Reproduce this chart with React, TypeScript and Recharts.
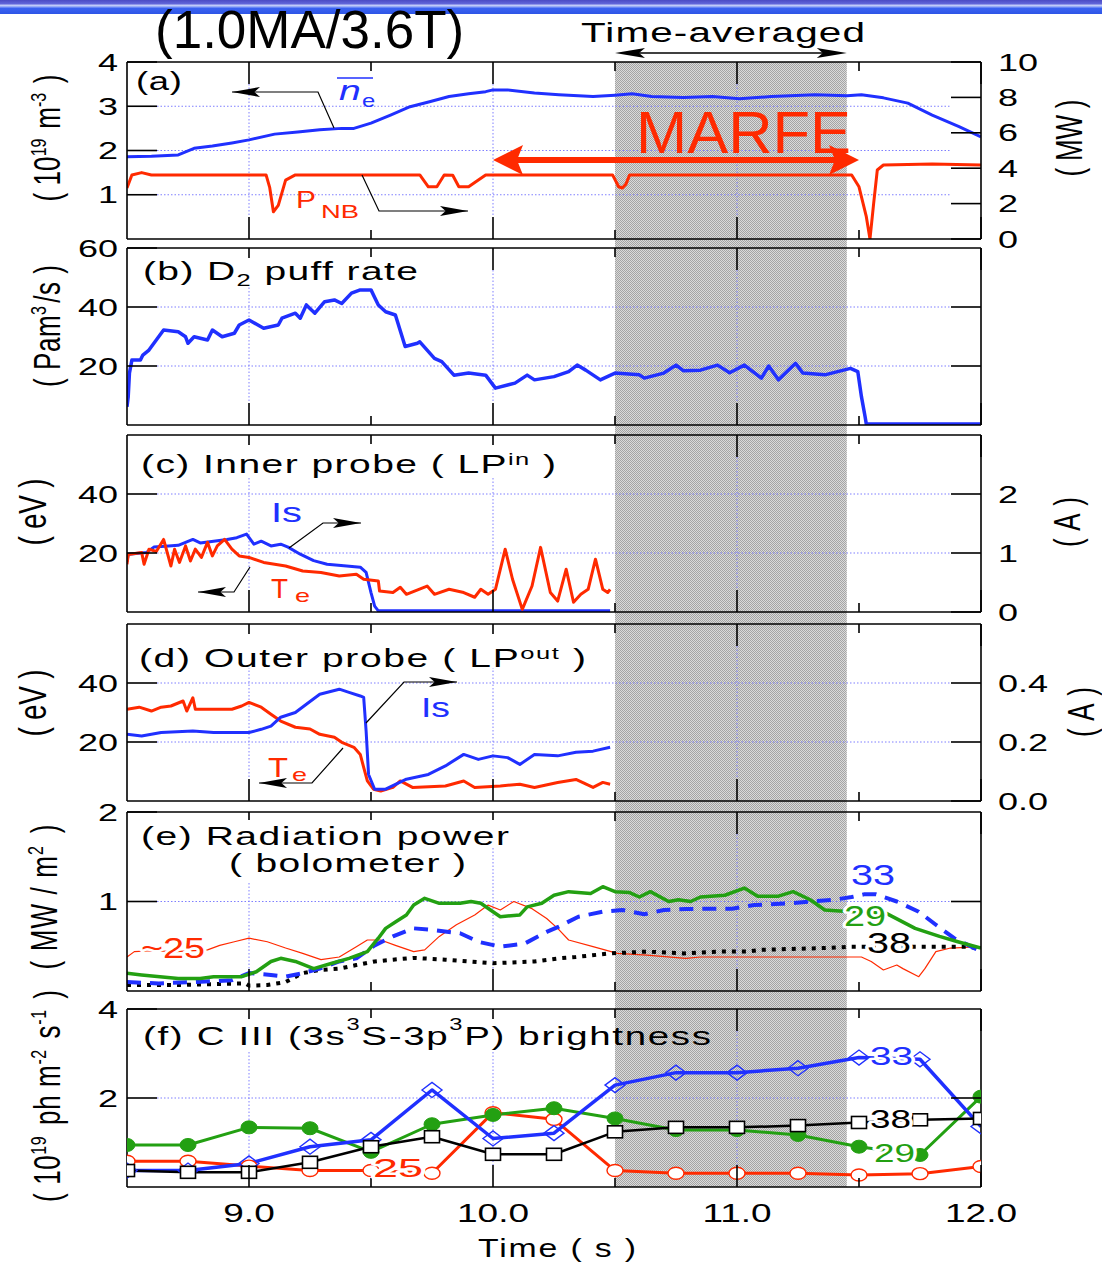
import React from 'react';
import { LineChart, Line, XAxis, YAxis, CartesianGrid } from 'recharts';

// Shot overview: density / NBI power, gas puff, divertor probes, radiation, C III
const W = 1102;
const H = 1263;
const PLOT_L = 127;
const PLOT_R = 981;
const T0 = 8.5;
const T1 = 12.0;
const PAD = 16;

const FONT = '"Liberation Sans", Arial, Helvetica, sans-serif';
const BLUE = '#2030ff';
const RED = '#ff2a00';
const GREEN = '#23a012';
const GRID = '#7f7fff';
const FRAME = { stroke: '#000', strokeWidth: 1.6 };

const X_TICKS = [9, 9.5, 10, 10.5, 11, 11.5, 12];
const X_GRID = [9, 10, 11];

// time window used for averaging, and the MARFE period
const AVG_WINDOW = [10.5, 11.45];
const MARFE_WINDOW = [10.0, 11.5];

// (a) line-averaged density [1e19 m^-3] and NBI power [MW]
const NE_BAR: [number, number][] = [
  [8.5, 1.86], [8.6, 1.87], [8.71, 1.9], [8.775, 2.05], [8.85, 2.1], [8.93, 2.17], [9.0, 2.24],
  [9.105, 2.37], [9.2, 2.42], [9.29, 2.47], [9.38, 2.5], [9.43, 2.5], [9.5, 2.62], [9.58, 2.8],
  [9.66, 2.99], [9.74, 3.1], [9.82, 3.22], [9.9, 3.28], [9.97, 3.33], [10.0, 3.37], [10.06, 3.37],
  [10.17, 3.3], [10.27, 3.26], [10.41, 3.22], [10.5, 3.25], [10.57, 3.28], [10.65, 3.22],
  [10.78, 3.2], [10.9, 3.22], [11.01, 3.17], [11.14, 3.22], [11.32, 3.26], [11.45, 3.24],
  [11.51, 3.26], [11.6, 3.19], [11.7, 3.07], [11.8, 2.8], [11.91, 2.54], [12.0, 2.31],
];
const P_NB: [number, number][] = [
  [8.5, 2.88], [8.52, 3.62], [8.56, 3.75], [8.6, 3.62], [9.07, 3.62], [9.085, 2.9], [9.1, 1.54],
  [9.12, 1.9], [9.15, 3.33], [9.19, 3.62], [9.7, 3.62], [9.735, 2.95], [9.77, 2.95], [9.8, 3.62],
  [9.835, 3.6], [9.86, 2.95], [9.9, 2.95], [9.94, 3.33], [9.97, 3.62], [10.49, 3.62],
  [10.515, 2.95], [10.53, 2.88], [10.545, 3.1], [10.56, 3.62], [11.47, 3.62], [11.5, 2.95],
  [11.53, 1.26], [11.545, 0], [11.56, 2.0], [11.575, 3.9], [11.6, 4.18], [11.8, 4.24], [12.0, 4.18],
];

// (b) D2 puff rate [Pa m^3/s]
const D2_PUFF: [number, number][] = [
  [8.5, 6.2], [8.505, 9.6], [8.51, 17.6], [8.52, 22], [8.555, 22], [8.565, 23.7], [8.59, 25.4],
  [8.62, 28.8], [8.65, 32.2], [8.71, 31.6], [8.74, 29.9], [8.75, 27.7], [8.775, 29.9], [8.83, 28.8],
  [8.85, 32.2], [8.89, 29.9], [8.94, 31.1], [8.96, 33.9], [9.0, 35.6], [9.06, 32.8], [9.12, 33.9],
  [9.135, 36.2], [9.19, 37.9], [9.21, 36.2], [9.235, 40.7], [9.27, 37.9], [9.31, 41.8], [9.35, 42.4],
  [9.38, 41.2], [9.42, 44.7], [9.456, 45.8], [9.5, 45.8], [9.53, 40.7], [9.56, 38.4], [9.6, 37.3],
  [9.64, 26.6], [9.69, 27.7], [9.7, 28.2], [9.76, 22.6], [9.79, 21.5], [9.84, 16.9], [9.9, 17.6],
  [9.97, 16.9], [10.01, 12.5], [10.09, 14.2], [10.14, 16.9], [10.17, 15.3], [10.25, 16.4],
  [10.31, 18.1], [10.345, 20.3], [10.38, 18.6], [10.44, 15.3], [10.5, 17.6], [10.6, 17.0],
  [10.62, 15.9], [10.7, 17.6], [10.75, 20.3], [10.78, 18.4], [10.85, 18.6], [10.92, 20.3],
  [10.97, 17.7], [11.03, 20.3], [11.1, 15.9], [11.13, 20.0], [11.17, 15.3], [11.24, 20.9],
  [11.27, 17.6], [11.36, 17.0], [11.465, 19.2], [11.495, 18.1], [11.51, 9.6], [11.525, 2.8],
  [11.53, 0.3], [12.0, 0.3],
];

// (c) inner probe: ion saturation current [A], electron temperature [eV]
const IS_IN: [number, number][] = [
  [8.5, 0.85], [8.505, 0.98], [8.58, 1.01], [8.61, 1.1], [8.67, 1.12], [8.71, 1.13], [8.77, 1.23],
  [8.8, 1.17], [8.855, 1.2], [8.91, 1.23], [8.95, 1.26], [8.99, 1.32], [9.02, 1.15], [9.05, 1.2],
  [9.09, 1.12], [9.13, 1.15], [9.16, 1.1], [9.21, 0.98], [9.265, 0.87], [9.32, 0.81], [9.4, 0.78],
  [9.456, 0.76], [9.48, 0.67], [9.5, 0.33], [9.515, 0.1], [9.53, 0.02], [10.48, 0.02],
];
const TE_IN: [number, number][] = [
  [8.5, 16.2], [8.505, 19.5], [8.56, 20.2], [8.57, 16.2], [8.59, 21.3], [8.62, 20.5], [8.65, 24.6],
  [8.68, 15.6], [8.695, 21.3], [8.715, 16.8], [8.74, 22.4], [8.76, 17.3], [8.78, 21.3], [8.805, 18.5],
  [8.83, 23.6], [8.85, 19.0], [8.87, 22.4], [8.9, 24.6], [8.93, 21.3], [8.96, 19.0], [9.0, 18.5],
  [9.06, 16.8], [9.105, 16.2], [9.15, 15.6], [9.22, 13.9], [9.295, 13.4], [9.37, 12.2], [9.44, 12.8],
  [9.47, 11.1], [9.53, 10.5], [9.535, 7.1], [9.59, 6.6], [9.62, 8.4], [9.645, 6.0], [9.73, 8.8],
  [9.76, 6.0], [9.82, 7.7], [9.88, 6.6], [9.925, 5.0], [9.95, 7.7], [9.98, 6.0], [10.01, 7.7],
  [10.05, 21.3], [10.08, 11.1], [10.12, 0.9], [10.16, 8.8], [10.195, 21.9], [10.235, 6.6],
  [10.265, 3.7], [10.3, 14.5], [10.33, 3.3], [10.36, 6.0], [10.39, 7.7], [10.42, 17.9], [10.45, 7.7],
  [10.47, 6.6], [10.48, 7.7],
];

// (d) outer probe
const TE_OUT: [number, number][] = [
  [8.5, 31.1], [8.55, 31.8], [8.6, 30.5], [8.64, 31.8], [8.68, 32.2], [8.73, 33.9], [8.745, 30.5],
  [8.77, 35.0], [8.78, 31.1], [8.855, 31.1], [8.93, 31.1], [8.97, 32.2], [9.0, 33.4], [9.05, 31.8],
  [9.09, 29.4], [9.13, 27.1], [9.19, 25.0], [9.25, 24.4], [9.29, 22.6], [9.35, 21.6], [9.38, 19.9],
  [9.43, 18.2], [9.456, 15.8], [9.47, 11.4], [9.485, 6.8], [9.51, 4.0], [9.54, 3.4], [9.59, 4.6],
  [9.62, 6.8], [9.67, 4.6], [9.805, 5.1], [9.88, 6.8], [9.925, 4.6], [10.03, 5.1], [10.11, 5.7],
  [10.17, 4.6], [10.265, 6.3], [10.34, 7.3], [10.41, 4.6], [10.45, 6.3], [10.48, 5.7],
];
const IS_OUT: [number, number][] = [
  [8.5, 0.226], [8.56, 0.22], [8.64, 0.232], [8.77, 0.237], [8.855, 0.232], [9.0, 0.232],
  [9.05, 0.243], [9.09, 0.254], [9.13, 0.284], [9.19, 0.3], [9.235, 0.328], [9.29, 0.362],
  [9.37, 0.379], [9.41, 0.368], [9.456, 0.356], [9.47, 0.351], [9.48, 0.237], [9.49, 0.09],
  [9.515, 0.04], [9.56, 0.04], [9.645, 0.074], [9.735, 0.09], [9.805, 0.119], [9.88, 0.158],
  [9.94, 0.141], [10.0, 0.153], [10.06, 0.147], [10.11, 0.124], [10.17, 0.158], [10.265, 0.153],
  [10.34, 0.165], [10.41, 0.169], [10.48, 0.182],
];

// (e) bolometer chords 25, 29, 33, 38 [MW/m^2]
const BOLO_25: [number, number][] = [
  [8.5, 0.38], [8.53, 0.44], [8.6, 0.45], [8.7, 0.44], [8.83, 0.46], [8.88, 0.51], [8.94, 0.55],
  [9.0, 0.59], [9.075, 0.55], [9.15, 0.48], [9.22, 0.42], [9.295, 0.35], [9.37, 0.38], [9.44, 0.495],
  [9.485, 0.57], [9.54, 0.57], [9.6, 0.51], [9.675, 0.44], [9.72, 0.46], [9.78, 0.61], [9.85, 0.74],
  [9.925, 0.85], [9.98, 0.96], [10.03, 0.905], [10.085, 1.0], [10.16, 0.92], [10.22, 0.81],
  [10.265, 0.7], [10.31, 0.57], [10.41, 0.495], [10.51, 0.42], [10.63, 0.4], [10.79, 0.365],
  [10.85, 0.38], [11.07, 0.38], [11.51, 0.38], [11.55, 0.33], [11.6, 0.235], [11.655, 0.29],
  [11.68, 0.25], [11.745, 0.16], [11.77, 0.25], [11.815, 0.44], [11.875, 0.48], [12.0, 0.495],
];
const BOLO_29: [number, number][] = [
  [8.5, 0.198], [8.56, 0.18], [8.71, 0.14], [8.8, 0.14], [8.855, 0.16], [8.97, 0.16], [9.03, 0.215],
  [9.09, 0.33], [9.13, 0.365], [9.19, 0.33], [9.265, 0.25], [9.34, 0.31], [9.41, 0.365], [9.485, 0.44],
  [9.53, 0.59], [9.56, 0.7], [9.6, 0.77], [9.645, 0.85], [9.675, 0.96], [9.72, 1.035], [9.78, 0.98],
  [9.865, 0.98], [9.91, 1.0], [9.95, 0.98], [10.0, 0.886], [10.03, 0.83], [10.11, 0.85], [10.14, 0.94],
  [10.2, 0.98], [10.25, 1.07], [10.31, 1.11], [10.4, 1.09], [10.45, 1.165], [10.5, 1.11], [10.56, 1.1],
  [10.6, 1.05], [10.645, 1.11], [10.72, 1.0], [10.76, 1.02], [10.81, 1.0], [10.85, 1.05], [10.95, 1.07],
  [11.03, 1.15], [11.085, 1.06], [11.17, 1.06], [11.23, 1.11], [11.3, 1.02], [11.36, 0.905],
  [11.42, 0.895], [11.61, 0.87], [11.73, 0.7], [11.83, 0.61], [11.905, 0.55], [12.0, 0.48],
];
const BOLO_33: [number, number][] = [
  [8.5, 0.1], [8.63, 0.085], [8.78, 0.1], [8.93, 0.12], [9.0, 0.2], [9.09, 0.18], [9.15, 0.16],
  [9.22, 0.2], [9.29, 0.25], [9.37, 0.33], [9.44, 0.365], [9.515, 0.51], [9.59, 0.61], [9.675, 0.7],
  [9.76, 0.68], [9.865, 0.645], [9.94, 0.55], [10.03, 0.495], [10.13, 0.53], [10.22, 0.66],
  [10.27, 0.72], [10.35, 0.83], [10.45, 0.886], [10.53, 0.905], [10.62, 0.857], [10.7, 0.905],
  [10.79, 0.916], [10.88, 0.92], [10.98, 0.92], [11.07, 0.96], [11.22, 0.98], [11.3, 1.0],
  [11.4, 1.02], [11.47, 1.05], [11.52, 1.08], [11.57, 1.08], [11.655, 1.0], [11.745, 0.886],
  [11.815, 0.74], [11.89, 0.59], [11.95, 0.51], [12.0, 0.44],
];
const BOLO_38: [number, number][] = [
  [8.5, 0.067], [8.71, 0.067], [8.985, 0.085], [9.0, 0.06], [9.075, 0.067], [9.15, 0.1], [9.22, 0.2],
  [9.29, 0.235], [9.37, 0.25], [9.44, 0.29], [9.515, 0.33], [9.59, 0.35], [9.675, 0.37], [9.805, 0.35],
  [10.0, 0.31], [10.17, 0.33], [10.27, 0.365], [10.34, 0.38], [10.48, 0.42], [10.63, 0.44],
  [10.78, 0.42], [10.92, 0.44], [11.04, 0.44], [11.1, 0.46], [11.22, 0.47], [11.36, 0.48],
  [11.465, 0.495], [11.73, 0.495], [11.95, 0.495], [12.0, 0.47],
];

// (f) C III brightness [1e19 ph m^-2 s^-1], sampled every 0.25 s
const CIII_TIME = [8.5, 8.75, 9.0, 9.25, 9.5, 9.75, 10.0, 10.25, 10.5, 10.75, 11.0, 11.25, 11.5, 11.75, 12.0];
const CIII_25 = [0.58, 0.58, 0.47, 0.37, 0.37, 0.31, 1.67, 1.52, 0.37, 0.31, 0.31, 0.31, 0.27, 0.3, 0.46];
const CIII_29 = [0.944, 0.944, 1.34, 1.32, 0.79, 1.41, 1.62, 1.77, 1.54, 1.28, 1.28, 1.17, 0.906, 0.72, 2.03];
const CIII_33 = [0.37, 0.37, 0.53, 0.905, 1.06, 2.18, 1.09, 1.21, 2.29, 2.57, 2.57, 2.67, 2.91, 2.87, 1.36];
const CIII_38 = [0.37, 0.33, 0.33, 0.555, 0.905, 1.13, 0.735, 0.735, 1.24, 1.34, 1.34, 1.38, 1.45, 1.51, 1.54];

type Pt = { t: number; v: number };
const pts = (arr: [number, number][]): Pt[] => arr.map(([t, v]) => ({ t, v }));
const sampled = (vals: number[]): Pt[] => vals.map((v, i) => ({ t: CIII_TIME[i], v }));

// time -> page x, same mapping the charts use
const tx = (t: number) => PLOT_L + ((t - T0) / (T1 - T0)) * (PLOT_R - PLOT_L);

// horizontally widened text; `len` pads the letter spacing out to a given width
function Stretch({ x, y, size = 25, sx = 1.45, anchor = 'start', fill = '#000', len, glyphs, italic, halo, children }: any) {
  return (
    <text
      transform={`translate(${x},${y}) scale(${sx},1)`}
      fontSize={size}
      fontFamily={FONT}
      fontStyle={italic ? 'italic' : undefined}
      textAnchor={anchor}
      fill={fill}
      textLength={len ? len / sx : undefined}
      lengthAdjust={len ? (glyphs ? 'spacingAndGlyphs' : 'spacing') : undefined}
      stroke={halo ? '#fff' : undefined}
      strokeWidth={halo ? 5 : undefined}
      strokeLinejoin="round"
      paintOrder={halo ? 'stroke' : undefined}
    >
      {children}
    </text>
  );
}

// rotated axis title, reading bottom to top
function VLabel({ x, y, len, size = 26, sx = 1.4, children }: any) {
  return (
    <text
      transform={`translate(${x},${y}) scale(${sx},1) rotate(-90)`}
      fontSize={size}
      fontFamily={FONT}
      textAnchor="middle"
      fill="#000"
      textLength={len}
      lengthAdjust="spacing"
    >
      {children}
    </text>
  );
}

const Sup = ({ children, size = 16, up = 10 }: any) => (
  <>
    <tspan dy={-up} fontSize={size}>{children}</tspan>
    <tspan dy={up}>{'\u200a'}</tspan>
  </>
);

function Arrow({ pts: p, dir, color = '#000', width = 1.2, head = 28, half = 5 }: any) {
  const [tipX, tipY] = p[p.length - 1];
  const back = tipX - dir * head;
  return (
    <g>
      <polyline points={p.map((q: number[]) => q.join(',')).join(' ')} fill="none" stroke={color} strokeWidth={width} />
      <polygon
        points={`${tipX},${tipY} ${back},${tipY - half} ${tipX - dir * head * 0.8},${tipY} ${back},${tipY + half}`}
        fill={color}
      />
    </g>
  );
}

function DoubleArrow({ x1, x2, y, color, width, head, half }: any) {
  return (
    <g>
      <line x1={x1 + head * 0.7} x2={x2 - head * 0.7} y1={y} y2={y} stroke={color} strokeWidth={width} />
      <polygon points={`${x1},${y} ${x1 + head},${y - half} ${x1 + head * 0.8},${y} ${x1 + head},${y + half}`} fill={color} />
      <polygon points={`${x2},${y} ${x2 - head},${y - half} ${x2 - head * 0.8},${y} ${x2 - head},${y + half}`} fill={color} />
    </g>
  );
}

// ---------- axis tick renderers ----------
const xTick = (side: 'top' | 'bottom', showLabel: boolean) => (p: any) => {
  const v = p.payload.value as number;
  const major = Number.isInteger(v);
  const len = major ? 22 : 9;
  const dir = side === 'bottom' ? -1 : 1;
  return (
    <g key={`${side}-${v}`}>
      <line x1={p.x} x2={p.x} y1={p.y} y2={p.y + dir * len} stroke="#000" strokeWidth={1.6} />
      {showLabel && major && (
        <Stretch x={p.x} y={p.y + 35} anchor="middle" size={25} sx={1.48}>
          {v.toFixed(1)}
        </Stretch>
      )}
    </g>
  );
};

const yTick = (side: 'left' | 'right', showLabel: boolean, fmt: (v: number) => string) => (p: any) => {
  const v = p.payload.value as number;
  const dir = side === 'left' ? 1 : -1;
  return (
    <g key={`${side}-${v}`}>
      <line x1={p.x} x2={p.x + dir * 30} y1={p.y} y2={p.y} stroke="#000" strokeWidth={1.6} />
      {showLabel && (
        <Stretch x={side === 'left' ? p.x - 9 : p.x + 17} y={p.y + 8.6} anchor={side === 'left' ? 'end' : 'start'} size={24} sx={1.5}>
          {fmt(v)}
        </Stretch>
      )}
    </g>
  );
};

// grid lines stop short of the inward tick marks
const hGrid = (p: any) => (
  <line key={p.key} x1={p.x1 + 30} x2={p.x2 - 30} y1={p.y1} y2={p.y2} stroke={GRID} strokeWidth={1} strokeDasharray="1.5 2" />
);
const vGrid = (p: any) => (
  <line key={p.key} x1={p.x1} x2={p.x2} y1={Math.min(p.y1, p.y2) + 22} y2={Math.max(p.y1, p.y2) - 22} stroke={GRID} strokeWidth={1} strokeDasharray="1.5 2" />
);

// ---------- markers for (f) ----------
const squareDot = (p: any) => (
  <rect key={`sq-${p.index}`} x={p.cx - 7.5} y={p.cy - 6} width={15} height={12} fill="#fff" stroke="#000" strokeWidth={1.6} />
);
const diamondDot = (p: any) => (
  <polygon key={`dm-${p.index}`} points={`${p.cx - 10},${p.cy} ${p.cx},${p.cy - 7.5} ${p.cx + 10},${p.cy} ${p.cx},${p.cy + 7.5}`} fill="none" stroke={BLUE} strokeWidth={1.4} />
);
const ringDot = (p: any) => (
  <ellipse key={`rg-${p.index}`} cx={p.cx} cy={p.cy} rx={8} ry={6} fill="#fff" stroke={RED} strokeWidth={1.4} />
);
const discDot = (p: any) => (
  <ellipse key={`dc-${p.index}`} cx={p.cx} cy={p.cy} rx={8} ry={6.5} fill={GREEN} stroke={GREEN} strokeWidth={1} />
);

type AxisSpec = { domain: [number, number]; ticks: number[]; labels?: boolean; fmt?: (v: number) => string };
type SeriesSpec = { id: string; data: Pt[]; color: string; width: number; dash?: string; right?: boolean; dot?: any };

function Panel({ box, left, right, gridY, series, xLabels = false }: {
  box: [number, number]; left: AxisSpec; right: AxisSpec; gridY: number[]; series: SeriesSpec[]; xLabels?: boolean;
}) {
  const [y0, y1] = box;
  const bottom = xLabels ? 76 : PAD;
  const plain = (v: number) => String(v);
  // each x axis takes 1px, taken out of the margins so the frame lands on y0 / y1
  return (
    <div style={{ position: 'absolute', left: 0, top: y0 - PAD }}>
      <LineChart width={W} height={y1 - y0 + PAD + bottom} margin={{ top: PAD - 1, right: 0, bottom: bottom - 1, left: 0 }}>
        <CartesianGrid horizontalValues={gridY} verticalValues={X_GRID} horizontal={hGrid} vertical={vGrid} />
        <XAxis type="number" dataKey="t" domain={[T0, T1]} ticks={X_TICKS} interval={0} height={1}
          tickSize={0} tickMargin={0} axisLine={FRAME} tickLine={false} tick={xTick('bottom', xLabels)} allowDataOverflow />
        <XAxis xAxisId="top" orientation="top" type="number" dataKey="t" domain={[T0, T1]} ticks={X_TICKS} interval={0}
          height={1} tickSize={0} tickMargin={0} axisLine={FRAME} tickLine={false} tick={xTick('top', false)} allowDataOverflow />
        <YAxis width={PLOT_L} type="number" domain={left.domain} ticks={left.ticks} interval={0} tickSize={0} tickMargin={0}
          axisLine={FRAME} tickLine={false} tick={yTick('left', !!left.labels, left.fmt ?? plain)} allowDataOverflow />
        <YAxis yAxisId="right" orientation="right" width={W - PLOT_R} type="number" domain={right.domain} ticks={right.ticks}
          interval={0} tickSize={0} tickMargin={0} axisLine={FRAME} tickLine={false}
          tick={yTick('right', !!right.labels, right.fmt ?? plain)} allowDataOverflow />
        {series.map((s) => (
          <Line key={s.id} data={s.data} dataKey="v" type="linear" yAxisId={s.right ? 'right' : 0}
            stroke={s.color} strokeWidth={s.width} strokeDasharray={s.dash} dot={s.dot ?? false}
            activeDot={false} isAnimationActive={false} strokeLinejoin="round" />
        ))}
      </LineChart>
    </div>
  );
}

const BOX_A: [number, number] = [62, 239];
const BOX_B: [number, number] = [248, 425];
const BOX_C: [number, number] = [435, 612];
const BOX_D: [number, number] = [624, 801];
const BOX_E: [number, number] = [812, 991];
const BOX_F: [number, number] = [1009, 1187];

function Backdrop() {
  const xa = tx(AVG_WINDOW[0]);
  const xb = tx(AVG_WINDOW[1]);
  return (
    <svg width={W} height={H} style={{ position: 'absolute', left: 0, top: 0 }}>
      <defs>
        <pattern id="avgFill" width="2" height="2" patternUnits="userSpaceOnUse">
          <rect width="2" height="2" fill="#dadada" />
          <rect width="1" height="1" fill="#a4a4a4" />
          <rect x="1" y="1" width="1" height="1" fill="#a4a4a4" />
        </pattern>
        <linearGradient id="bar" x1="0" y1="0" x2="0" y2="1">
          <stop offset="0" stopColor="#4b4bc4" />
          <stop offset="0.25" stopColor="#5f63d8" />
          <stop offset="0.4" stopColor="#c6d0fb" />
          <stop offset="0.6" stopColor="#3a62f2" />
          <stop offset="1" stopColor="#2d55e6" />
        </linearGradient>
      </defs>
      <rect x={0} y={0} width={W} height={H} fill="#fff" />
      <rect x={0} y={0} width={W} height={14} fill="url(#bar)" />
      <rect x={xa} y={BOX_A[0]} width={xb - xa} height={BOX_F[1] - BOX_A[0]} fill="url(#avgFill)" />
    </svg>
  );
}

function Annotations() {
  const titleBoxes = [
    [135, 258, 288, 29], [135, 445, 428, 32], [133, 634, 462, 34],
    [135, 820, 380, 28], [222, 848, 252, 34], [135, 1019, tx(AVG_WINDOW[0]) - 137, 33],
  ];
  return (
    <svg width={W} height={H} style={{ position: 'absolute', left: 0, top: 0, pointerEvents: 'none' }}>
      {titleBoxes.map(([x, y, w, h], i) => (
        <rect key={i} x={x} y={y} width={w} height={h} fill="#fff" />
      ))}

      <text x={155} y={48} fontSize={53} fontFamily={FONT} fill="#000">(1.0MA/3.6T)</text>

      <Stretch x={581} y={42} size={27} sx={1.5} len={284}>Time-averaged</Stretch>
      <DoubleArrow x1={tx(AVG_WINDOW[0])} x2={tx(AVG_WINDOW[1])} y={53} color="#000" width={1.3} head={30} half={5} />

      {/* panel titles */}
      <Stretch x={136} y={90} size={26} sx={1.4} len={46}>(a)</Stretch>
      <Stretch x={143} y={280} size={26} sx={1.5} len={275}>
        (b) D<tspan dy={6} fontSize={17}>2</tspan><tspan dy={-6}> puff rate</tspan>
      </Stretch>
      <Stretch x={141} y={473} size={26} sx={1.5} len={415}>
        (c) Inner probe ( LP<tspan dy={-8} fontSize={17}>in</tspan><tspan dy={8}> )</tspan>
      </Stretch>
      <Stretch x={139} y={667} size={26} sx={1.5} len={447}>
        (d) Outer probe ( LP<tspan dy={-8} fontSize={17}>out</tspan><tspan dy={8}> )</tspan>
      </Stretch>
      <Stretch x={141} y={845} size={26} sx={1.5} len={368}>(e) Radiation power</Stretch>
      <Stretch x={229} y={872} size={26} sx={1.5} len={237}>( bolometer )</Stretch>
      <Stretch x={143} y={1045} size={26} sx={1.48} len={568}>
        (f) C III (3s<tspan dy={-15} fontSize={16}>3</tspan><tspan dy={15}>S-3p</tspan>
        <tspan dy={-15} fontSize={16}>3</tspan><tspan dy={15}>P) brightness</tspan>
      </Stretch>

      {/* axis titles */}
      <VLabel x={60} y={138} len={127} size={26}>
        ( 10<Sup>19</Sup> m<Sup>-3</Sup> )
      </VLabel>
      <VLabel x={60} y={326} len={122} size={26}>
        ( Pam<Sup>3</Sup>/s )
      </VLabel>
      <VLabel x={46} y={512} len={67} size={28}>( eV )</VLabel>
      <VLabel x={46} y={703} len={67} size={28}>( eV )</VLabel>
      <VLabel x={57} y={897} len={145} size={26}>
        ( MW / m<Sup>2</Sup> )
      </VLabel>
      <VLabel x={60} y={1096} len={212} size={26}>
        ( 10<Sup>19</Sup> ph m<Sup>-2</Sup> s<Sup>-1</Sup> )
      </VLabel>
      <VLabel x={1082} y={138} len={77} size={26}>( MW )</VLabel>
      <VLabel x={1080} y={522} len={50} size={26}>( A )</VLabel>
      <VLabel x={1094} y={712} len={50} size={26}>( A )</VLabel>
      <Stretch x={478} y={1257} size={26} sx={1.3} len={158}>Time ( s )</Stretch>

      {/* (a) */}
      <Stretch x={339} y={100} size={28} sx={1.4} italic fill={BLUE}>n</Stretch>
      <Stretch x={362} y={107} size={19} sx={1.25} fill={BLUE}>e</Stretch>
      <line x1={337} x2={373} y1={78} y2={78} stroke={BLUE} strokeWidth={1.6} />
      <Arrow pts={[[334, 128], [318, 92], [232, 92]]} dir={-1} />
      <Stretch x={296} y={208} size={23} sx={1.3} fill={RED}>P</Stretch>
      <Stretch x={321} y={218} size={18} len={38} glyphs fill={RED}>NB</Stretch>
      <Arrow pts={[[362, 175], [379, 211], [468, 211]]} dir={1} />
      <Stretch x={636} y={153} size={60} sx={1} len={215} glyphs fill={RED}>MARFE</Stretch>
      <DoubleArrow x1={tx(MARFE_WINDOW[0])} x2={tx(MARFE_WINDOW[1])} y={160} color={RED} width={6} head={30} half={15} />

      {/* (c) */}
      <Stretch x={271} y={522} size={28} len={31} glyphs fill={BLUE}>Is</Stretch>
      <Arrow pts={[[289, 548], [323, 523], [361, 523]]} dir={1} />
      <Stretch x={271} y={598} size={28} len={17} glyphs fill={RED}>T</Stretch>
      <Stretch x={295} y={602} size={18} len={15} glyphs fill={RED}>e</Stretch>
      <Arrow pts={[[250, 567], [234, 592], [198, 592]]} dir={-1} />

      {/* (d) */}
      <Stretch x={421} y={717} size={28} len={29} glyphs fill={BLUE}>Is</Stretch>
      <Arrow pts={[[366, 723], [404, 682], [457, 682]]} dir={1} />
      <Stretch x={268} y={777} size={28} len={20} glyphs fill={RED}>T</Stretch>
      <Stretch x={292} y={781} size={18} len={15} glyphs fill={RED}>e</Stretch>
      <Arrow pts={[[343, 748], [312, 783], [259, 783]]} dir={-1} />

      {/* (e) chord labels */}
      <Stretch x={141} y={958} size={30} len={64} glyphs fill={RED} halo>~25</Stretch>
      <Stretch x={851} y={885} size={30} len={44} glyphs fill={BLUE} halo>33</Stretch>
      <Stretch x={844} y={926} size={29} len={42} glyphs fill={GREEN} halo>29</Stretch>
      <Stretch x={867} y={953} size={29} len={44} glyphs fill="#000" halo>38</Stretch>

      {/* (f) chord labels */}
      <Stretch x={870} y={1065} size={26} len={43} glyphs fill={BLUE} halo>33</Stretch>
      <Stretch x={870} y={1128} size={26} len={41} glyphs fill="#000" halo>38</Stretch>
      <Stretch x={874} y={1162} size={26} len={41} glyphs fill={GREEN} halo>29</Stretch>
      <Stretch x={373} y={1177} size={26} len={50} glyphs fill={RED} halo>25</Stretch>
    </svg>
  );
}

export default function App() {
  return (
    <div style={{ position: 'absolute', left: 0, top: 0, width: W, height: H, background: '#fff', fontFamily: FONT }}>
      <Backdrop />
      <Panel box={BOX_A} gridY={[1, 2, 3]}
        left={{ domain: [0, 4], ticks: [1, 2, 3, 4], labels: true }}
        right={{ domain: [0, 10], ticks: [0, 2, 4, 6, 8, 10], labels: true }}
        series={[
          { id: 'pnb', data: pts(P_NB), color: RED, width: 3, right: true },
          { id: 'ne', data: pts(NE_BAR), color: BLUE, width: 3 },
        ]} />
      <Panel box={BOX_B} gridY={[20, 40]}
        left={{ domain: [0, 60], ticks: [20, 40, 60], labels: true }}
        right={{ domain: [0, 60], ticks: [20, 40] }}
        series={[{ id: 'd2', data: pts(D2_PUFF), color: BLUE, width: 3.5 }]} />
      <Panel box={BOX_C} gridY={[20, 40]}
        left={{ domain: [0, 60], ticks: [20, 40], labels: true }}
        right={{ domain: [0, 3], ticks: [0, 1, 2], labels: true }}
        series={[
          { id: 'isin', data: pts(IS_IN), color: BLUE, width: 3, right: true },
          { id: 'tein', data: pts(TE_IN), color: RED, width: 3 },
        ]} />
      <Panel box={BOX_D} gridY={[20, 40]}
        left={{ domain: [0, 60], ticks: [20, 40], labels: true }}
        right={{ domain: [0, 0.6], ticks: [0, 0.2, 0.4], labels: true, fmt: (v) => v.toFixed(1) }}
        series={[
          { id: 'teout', data: pts(TE_OUT), color: RED, width: 3 },
          { id: 'isout', data: pts(IS_OUT), color: BLUE, width: 3, right: true },
        ]} />
      <Panel box={BOX_E} gridY={[1]}
        left={{ domain: [0, 2], ticks: [1, 2], labels: true }}
        right={{ domain: [0, 2], ticks: [1] }}
        series={[
          { id: 'b25', data: pts(BOLO_25), color: RED, width: 1.2 },
          { id: 'b38', data: pts(BOLO_38), color: '#000', width: 4, dash: '4 6' },
          { id: 'b33', data: pts(BOLO_33), color: BLUE, width: 4, dash: '14 9' },
          { id: 'b29', data: pts(BOLO_29), color: GREEN, width: 3.5 },
        ]} />
      <Panel box={BOX_F} gridY={[2]} xLabels
        left={{ domain: [0, 4], ticks: [2, 4], labels: true }}
        right={{ domain: [0, 4], ticks: [2] }}
        series={[
          { id: 'c25', data: sampled(CIII_25), color: RED, width: 3, dot: ringDot },
          { id: 'c29', data: sampled(CIII_29), color: GREEN, width: 3, dot: discDot },
          { id: 'c33', data: sampled(CIII_33), color: BLUE, width: 3.5, dot: diamondDot },
          { id: 'c38', data: sampled(CIII_38), color: '#000', width: 2.5, dot: squareDot },
        ]} />
      <Annotations />
    </div>
  );
}
